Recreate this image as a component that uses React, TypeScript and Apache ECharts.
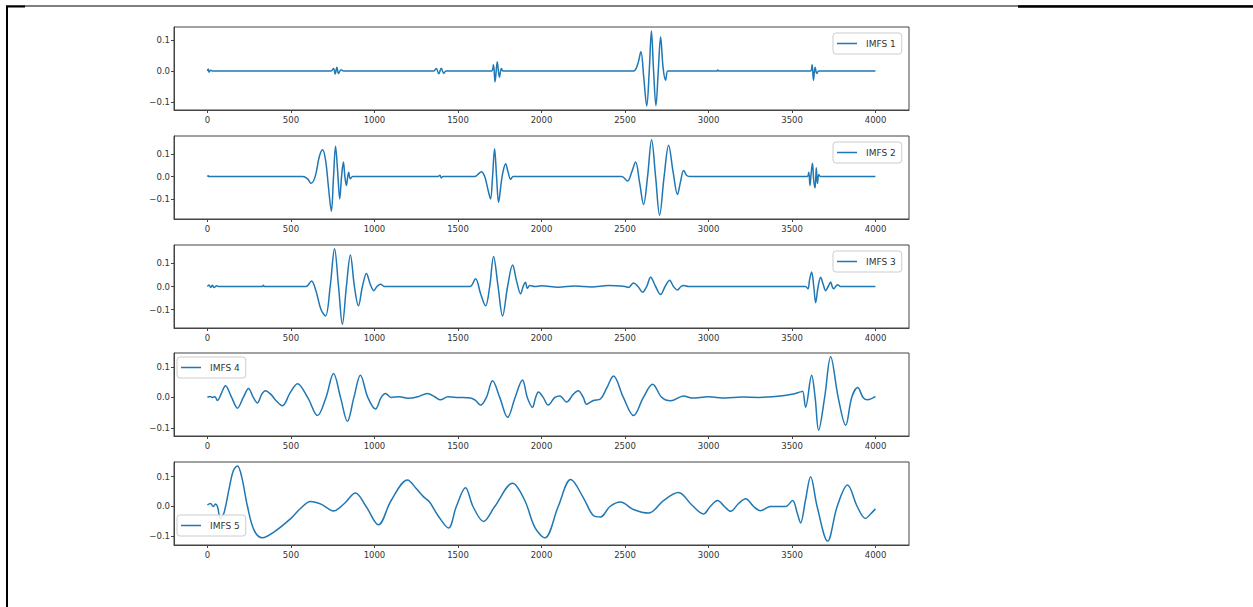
import { useEffect, useRef } from "react";
import * as echarts from "echarts";

const SERIES_NAMES = ["IMFS 1", "IMFS 2", "IMFS 3", "IMFS 4", "IMFS 5"];
const X_TICKS = [0, 500, 1000, 1500, 2000, 2500, 3000, 3500, 4000];
const Y_TICKS = [-0.1, 0, 0.1];

const imf1: [number, number][] = [
  [0, 0], [5, 0.006], [10, -0.004], [20, 0.002], [30, 0],
  [740, 0], [755, 0.008], [765, -0.01], [775, 0.012], [785, -0.008], [800, 0.004], [815, 0],
  [1355, 0], [1370, 0.008], [1385, -0.009], [1400, 0.009], [1415, -0.008], [1428, 0],
  [1700, 0], [1712, 0.02], [1722, -0.035], [1735, 0.03], [1748, -0.02], [1760, 0.008], [1770, 0],
  [2550, 0], [2575, 0.02], [2595, 0.062], [2612, -0.02], [2630, -0.113], [2645, 0], [2658, 0.129],
  [2671, 0], [2685, -0.112], [2699, 0], [2713, 0.11], [2728, 0.01], [2743, -0.03], [2755, 0], [2770, 0],
  [3050, 0], [3055, 0.003], [3060, 0],
  [3610, 0], [3620, 0.02], [3628, -0.03], [3638, 0.012], [3648, -0.008], [3660, 0], [3999, 0],
];

const imf2: [number, number][] = [
  [0, 0], [5, 0.004], [10, 0], [570, 0], [600, -0.01], [620, -0.03], [645, 0], [670, 0.09], [690, 0.12],
  [708, 0.07], [725, -0.05], [742, -0.155], [755, 0], [767, 0.136], [780, 0.02], [792, -0.1], [803, 0],
  [814, 0.065], [823, 0], [832, -0.04], [840, 0], [846, 0.02], [855, -0.01], [870, 0],
  [1380, 0], [1392, 0.006], [1400, -0.006], [1410, 0],
  [1600, 0], [1620, 0.01], [1640, 0.022], [1660, 0], [1680, -0.06], [1695, -0.1], [1707, 0], [1719, 0.125],
  [1731, 0], [1743, -0.115], [1760, -0.02], [1772, 0.03], [1785, 0.058], [1800, 0.02], [1815, -0.012],
  [1830, 0], [1850, 0],
  [2480, 0], [2515, -0.02], [2540, 0.02], [2563, 0.065], [2588, -0.03], [2611, -0.125], [2635, 0],
  [2659, 0.165], [2683, 0], [2707, -0.173], [2734, 0], [2761, 0.14], [2788, 0.02], [2814, -0.08],
  [2833, -0.02], [2851, 0.027], [2870, 0.005], [2892, 0],
  [3590, 0], [3600, 0.02], [3607, -0.04], [3615, 0.02], [3622, 0.06], [3630, -0.02], [3638, -0.05],
  [3645, 0.04], [3652, -0.03], [3660, 0.01], [3670, 0], [3999, 0],
];

const imf3: [number, number][] = [
  [0, 0], [10, 0.006], [20, -0.004], [30, 0.005], [40, -0.004], [55, 0.003], [65, 0],
  [330, 0], [335, 0.005], [342, 0],
  [590, 0], [623, 0.024], [650, -0.02], [680, -0.1], [707, -0.128], [735, 0], [761, 0.164], [785, 0],
  [808, -0.164], [832, 0], [856, 0.137], [880, 0], [904, -0.084], [928, 0], [952, 0.056], [975, 0.01],
  [996, -0.018], [1015, 0], [1036, 0.01], [1060, 0],
  [1570, 0], [1605, 0.034], [1635, -0.03], [1665, -0.084], [1690, 0], [1713, 0.13], [1740, 0],
  [1767, -0.128], [1797, 0], [1827, 0.093], [1852, 0.02], [1875, -0.032], [1890, 0], [1904, 0.018],
  [1915, -0.008], [1930, 0.004], [1960, 0], [2000, 0.003], [2100, -0.003], [2200, 0.002], [2300, -0.002],
  [2400, 0.004], [2500, 0], [2520, -0.004], [2551, 0.015], [2578, 0], [2605, -0.025], [2630, 0],
  [2653, 0.04], [2683, 0], [2713, -0.035], [2740, 0], [2767, 0.027], [2790, 0], [2814, -0.015],
  [2835, 0], [2851, 0.004], [2880, 0],
  [3580, 0], [3595, -0.01], [3605, 0.03], [3617, 0.063], [3630, 0], [3641, -0.07], [3656, 0],
  [3671, 0.04], [3686, 0.01], [3701, -0.018], [3716, 0], [3731, 0.019], [3740, 0], [3749, -0.01],
  [3761, 0], [3773, 0.008], [3790, 0], [3999, 0],
];

const imf4: [number, number][] = [
  [0, 0], [15, 0.003], [30, 0], [45, 0.002], [60, -0.01], [85, 0.015], [108, 0.038], [145, 0],
  [180, -0.035], [215, 0], [246, 0.029], [275, 0], [299, -0.018], [325, 0.01], [347, 0.022],
  [380, 0.01], [410, -0.01], [449, -0.027], [495, 0.015], [539, 0.045], [600, 0], [659, -0.059],
  [710, 0], [755, 0.078], [797, 0], [838, -0.078], [877, 0], [916, 0.072], [960, 0], [1006, -0.038],
  [1040, 0], [1066, 0.013], [1100, 0], [1150, 0.002], [1200, -0.003], [1260, 0.002], [1317, 0.013],
  [1360, 0.002], [1395, -0.008], [1440, 0.002], [1500, 0], [1575, -0.002], [1605, -0.01],
  [1635, -0.025], [1670, 0], [1707, 0.054], [1750, 0], [1797, -0.065], [1842, 0], [1886, 0.057],
  [1915, 0], [1946, -0.032], [1965, 0], [1982, 0.018], [2010, 0], [2040, -0.025], [2080, 0],
  [2110, 0.005], [2150, -0.015], [2190, 0.01], [2220, 0.022], [2250, 0], [2270, -0.022], [2310, -0.01],
  [2353, -0.005], [2390, 0.03], [2431, 0.07], [2490, 0], [2551, -0.059], [2610, 0], [2665, 0.043],
  [2720, 0], [2773, -0.011], [2851, 0.005], [2900, -0.002], [3000, 0.002], [3100, -0.002], [3200, 0.001],
  [3300, 0], [3400, 0.003], [3500, 0.01], [3551, 0.018], [3563, 0.02], [3581, -0.032], [3617, 0.072],
  [3638, 0], [3659, -0.107], [3695, 0], [3731, 0.133], [3776, 0], [3821, -0.091], [3857, 0],
  [3893, 0.032], [3925, 0], [3952, -0.008], [3999, 0.003],
];

const imf5: [number, number][] = [
  [0, 0.005], [18, 0.01], [36, 0], [48, 0.008], [60, 0], [78, -0.04], [100, -0.02], [130, 0.06],
  [155, 0.12], [180, 0.136], [205, 0.1], [240, 0], [280, -0.08], [329, -0.105], [400, -0.085],
  [500, -0.04], [560, -0.005], [617, 0.017], [680, 0.008], [755, -0.015], [820, 0.01], [886, 0.045],
  [950, 0], [1024, -0.061], [1100, 0.02], [1198, 0.089], [1250, 0.06], [1293, 0.033], [1330, 0.015],
  [1380, -0.03], [1443, -0.072], [1490, 0], [1545, 0.063], [1590, 0], [1653, -0.05], [1720, 0],
  [1827, 0.078], [1900, 0.02], [1960, -0.07], [2020, -0.105], [2100, 0], [2175, 0.09], [2250, 0.03],
  [2310, -0.03], [2353, -0.035], [2410, 0], [2473, 0.015], [2550, -0.01], [2641, -0.022], [2730, 0.02],
  [2820, 0.047], [2900, 0.005], [2970, -0.025], [3010, 0], [3054, 0.02], [3095, 0], [3132, -0.016],
  [3180, 0.01], [3222, 0.026], [3270, 0], [3311, -0.014], [3371, 0], [3461, 0], [3503, 0.02],
  [3530, -0.02], [3551, -0.055], [3580, 0.02], [3611, 0.1], [3650, 0], [3713, -0.116], [3770, 0],
  [3832, 0.072], [3890, 0], [3940, -0.04], [3970, -0.025], [3999, -0.008],
];

const SERIES_DATA = [imf1, imf2, imf3, imf4, imf5];

const Y_MIN = [-0.126, -0.19, -0.18, -0.126, -0.129];
const Y_MAX = [0.142, 0.182, 0.18, 0.145, 0.149];

const GRID_TOPS = [27, 136, 245, 353, 462];
const GRID_HEIGHT = 83;
const GRID_LEFT = 174;
const GRID_WIDTH = 735;

const LEGEND_POS = [
  { left: 833, top: 33 },
  { left: 833, top: 142 },
  { left: 833, top: 251 },
  { left: 177, top: 357 },
  { left: 177, top: 515 },
];

const LINE_COLOR = "#1f77b4";
const FONT = "DejaVu Sans";

function fmtY(v: number) {
  if (Math.abs(v) < 1e-9) return "0.0";
  return v < 0 ? "\u2212" + Math.abs(v).toFixed(1) : v.toFixed(1);
}

function fmtX(v: number) {
  return String(Math.round(v));
}

export default function App() {
  const ref = useRef<HTMLDivElement>(null);

  useEffect(() => {
    const chart = echarts.init(ref.current!, null, { renderer: "svg" });
    const grids = GRID_TOPS.map((top) => ({
      left: GRID_LEFT,
      top,
      width: GRID_WIDTH,
      height: GRID_HEIGHT,
      show: true,
      borderColor: "#444",
      borderWidth: 1,
      backgroundColor: "#fff",
      containLabel: false,
    }));
    const xAxes = GRID_TOPS.map((_, i) => ({
      type: "value",
      gridIndex: i,
      position: "bottom",
      min: -200,
      max: 4200,
      axisLine: { show: true, onZero: false, lineStyle: { color: "#444", width: 1 } },
      axisTick: { show: true, length: 3, customValues: X_TICKS, lineStyle: { color: "#444" } },
      axisLabel: {
        show: true,
        customValues: X_TICKS,
        formatter: fmtX,
        fontSize: 8.5,
        fontFamily: FONT,
        color: "#333",
        margin: 5,
      },
      splitLine: { show: false },
    }));
    const yAxes = GRID_TOPS.map((_, i) => ({
      type: "value",
      gridIndex: i,
      position: "left",
      min: Y_MIN[i],
      max: Y_MAX[i],
      axisLine: { show: true, onZero: false, lineStyle: { color: "#444", width: 1 } },
      axisTick: { show: true, length: 3, customValues: Y_TICKS, lineStyle: { color: "#444" } },
      axisLabel: {
        show: true,
        customValues: Y_TICKS,
        formatter: fmtY,
        fontSize: 8.5,
        fontFamily: FONT,
        color: "#333",
        margin: 4,
      },
      splitLine: { show: false },
    }));
    const series = SERIES_DATA.map((d, i) => ({
      name: SERIES_NAMES[i],
      type: "line",
      xAxisIndex: i,
      yAxisIndex: i,
      data: d,
      showSymbol: false,
      smooth: 0.35,
      lineStyle: { color: LINE_COLOR, width: 1.5 },
      itemStyle: { color: LINE_COLOR },
    }));
    const legends = SERIES_NAMES.map((name, i) => ({
      data: [name],
      left: LEGEND_POS[i].left,
      top: LEGEND_POS[i].top,
      orient: "vertical",
      icon: "rect",
      itemWidth: 20,
      itemHeight: 1.5,
      padding: [6, 6, 6, 4],
      backgroundColor: "rgba(255,255,255,0.85)",
      borderColor: "#ccc",
      borderWidth: 1,
      borderRadius: 3,
      textStyle: { fontSize: 9, fontFamily: FONT, color: "#333", padding: [0, 0, 0, 4] },
      selectedMode: false,
    }));

    chart.setOption({
      animation: false,
      backgroundColor: "#fff",
      grid: grids,
      xAxis: xAxes,
      yAxis: yAxes,
      series,
      legend: legends,
      graphic: [
        { type: "line", shape: { x1: 6, y1: 6, x2: 1253, y2: 6 }, style: { stroke: "#000", lineWidth: 1 } },
        { type: "line", shape: { x1: 6, y1: 6.5, x2: 25, y2: 6.5 }, style: { stroke: "#000", lineWidth: 2 } },
        { type: "line", shape: { x1: 1018, y1: 6.5, x2: 1253, y2: 6.5 }, style: { stroke: "#000", lineWidth: 2.5 } },
        { type: "line", shape: { x1: 7, y1: 6, x2: 7, y2: 607 }, style: { stroke: "#000", lineWidth: 2 } },
      ],
    });
    return () => chart.dispose();
  }, []);

  return (
    <div
      ref={ref}
      style={{ position: "absolute", left: 0, top: 0, width: 1253, height: 607, background: "#fff" }}
    />
  );
}
